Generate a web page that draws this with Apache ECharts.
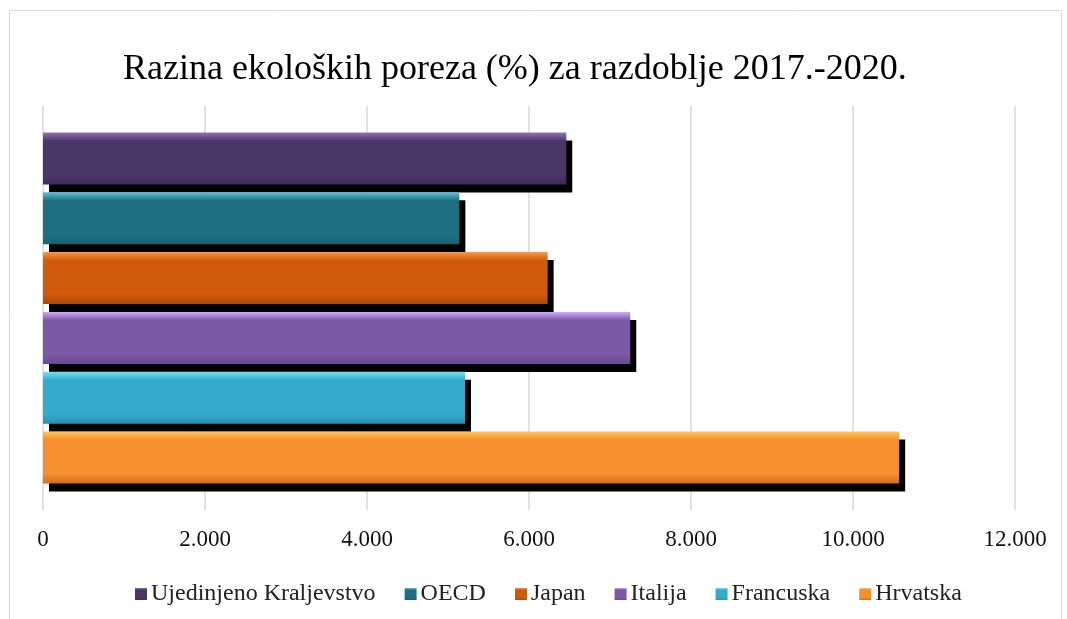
<!DOCTYPE html>
<html>
<head>
<meta charset="utf-8">
<script src="https://cdn.jsdelivr.net/npm/echarts@6/dist/echarts.min.js"></script>
<style>
  html, body { margin: 0; padding: 0; background: #fff; }
  #chart { width: 1067px; height: 619px; }
</style>
</head>
<body>
<div id="chart"></div>
<script>
// data
var seriesNames = ['Ujedinjeno Kraljevstvo', 'OECD', 'Japan', 'Italija', 'Francuska', 'Hrvatska'];
var seriesValues = [6.46, 5.14, 6.23, 7.25, 5.21, 10.57];
var category = ['2017.-2020.'];
var titleText = 'Razina ekoloških poreza (%) za razdoblje 2017.-2020.';

// colours: [top highlight, body, bottom]
var palette = [
  ['#9077b4', '#4b3668', '#3f2c58'],
  ['#5cc3da', '#1f6f83', '#1a5f70'],
  ['#fb9a45', '#cf5a0b', '#a9480a'],
  ['#d0acf5', '#7b58a7', '#684891'],
  ['#74e4f7', '#34abcc', '#2a90ad'],
  ['#fdc75a', '#f68f2d', '#c86f22']
];

var font = '"Liberation Serif", "Times New Roman", serif';

var series = seriesNames.map(function (name, i) {
  var c = palette[i];
  return {
    name: name,
    type: 'bar',
    barWidth: 52,
    barGap: '15%',
    data: [seriesValues[i]],
    itemStyle: {
      color: {
        type: 'linear', x: 0, y: 0, x2: 0, y2: 1,
        colorStops: [
          { offset: 0, color: c[0] },
          { offset: 0.16, color: c[1] },
          { offset: 0.82, color: c[1] },
          { offset: 1, color: c[2] }
        ]
      },
      borderWidth: 0,
      shadowColor: '#000',
      shadowBlur: 0,
      shadowOffsetX: 6,
      shadowOffsetY: 8
    }
  };
});

var chart = echarts.init(document.getElementById('chart'), null, { renderer: 'canvas' });
chart.setOption({
  animation: false,
  backgroundColor: '#fff',
  title: {
    text: titleText,
    left: 118,
    top: 47,
    textStyle: { fontFamily: font, fontSize: 36, fontWeight: 'normal', color: '#000' }
  },
  graphic: [{
    type: 'rect',
    shape: { x: 9.5, y: 10.5, width: 1052, height: 620 },
    style: { fill: 'none', stroke: '#d9d9d9', lineWidth: 1 },
    silent: true
  }],
  legend: {
    data: seriesNames,
    bottom: 8,
    left: 130,
    itemWidth: 12,
    itemHeight: 12,
    itemGap: 29,
    icon: 'rect',
    textStyle: { fontFamily: font, fontSize: 24, color: '#222', padding: [0, 0, 0, -1] }
  },
  grid: { left: 43, right: 52, top: 106, bottom: 109, containLabel: false },
  xAxis: {
    type: 'value',
    min: 0,
    max: 12,
    interval: 2,
    axisLine: { show: false },
    axisTick: { show: false },
    axisLabel: {
      fontFamily: font, fontSize: 23, color: '#111', margin: 18,
      formatter: function (v) { return v === 0 ? '0' : v + '.000'; }
    },
    splitLine: { lineStyle: { color: '#d9d9d9', width: 1.5 } }
  },
  yAxis: {
    type: 'category',
    data: category,
    inverse: true,
    axisLine: { show: false },
    axisTick: { show: false },
    axisLabel: { show: false }
  },
  series: series
});
</script>
</body>
</html>
